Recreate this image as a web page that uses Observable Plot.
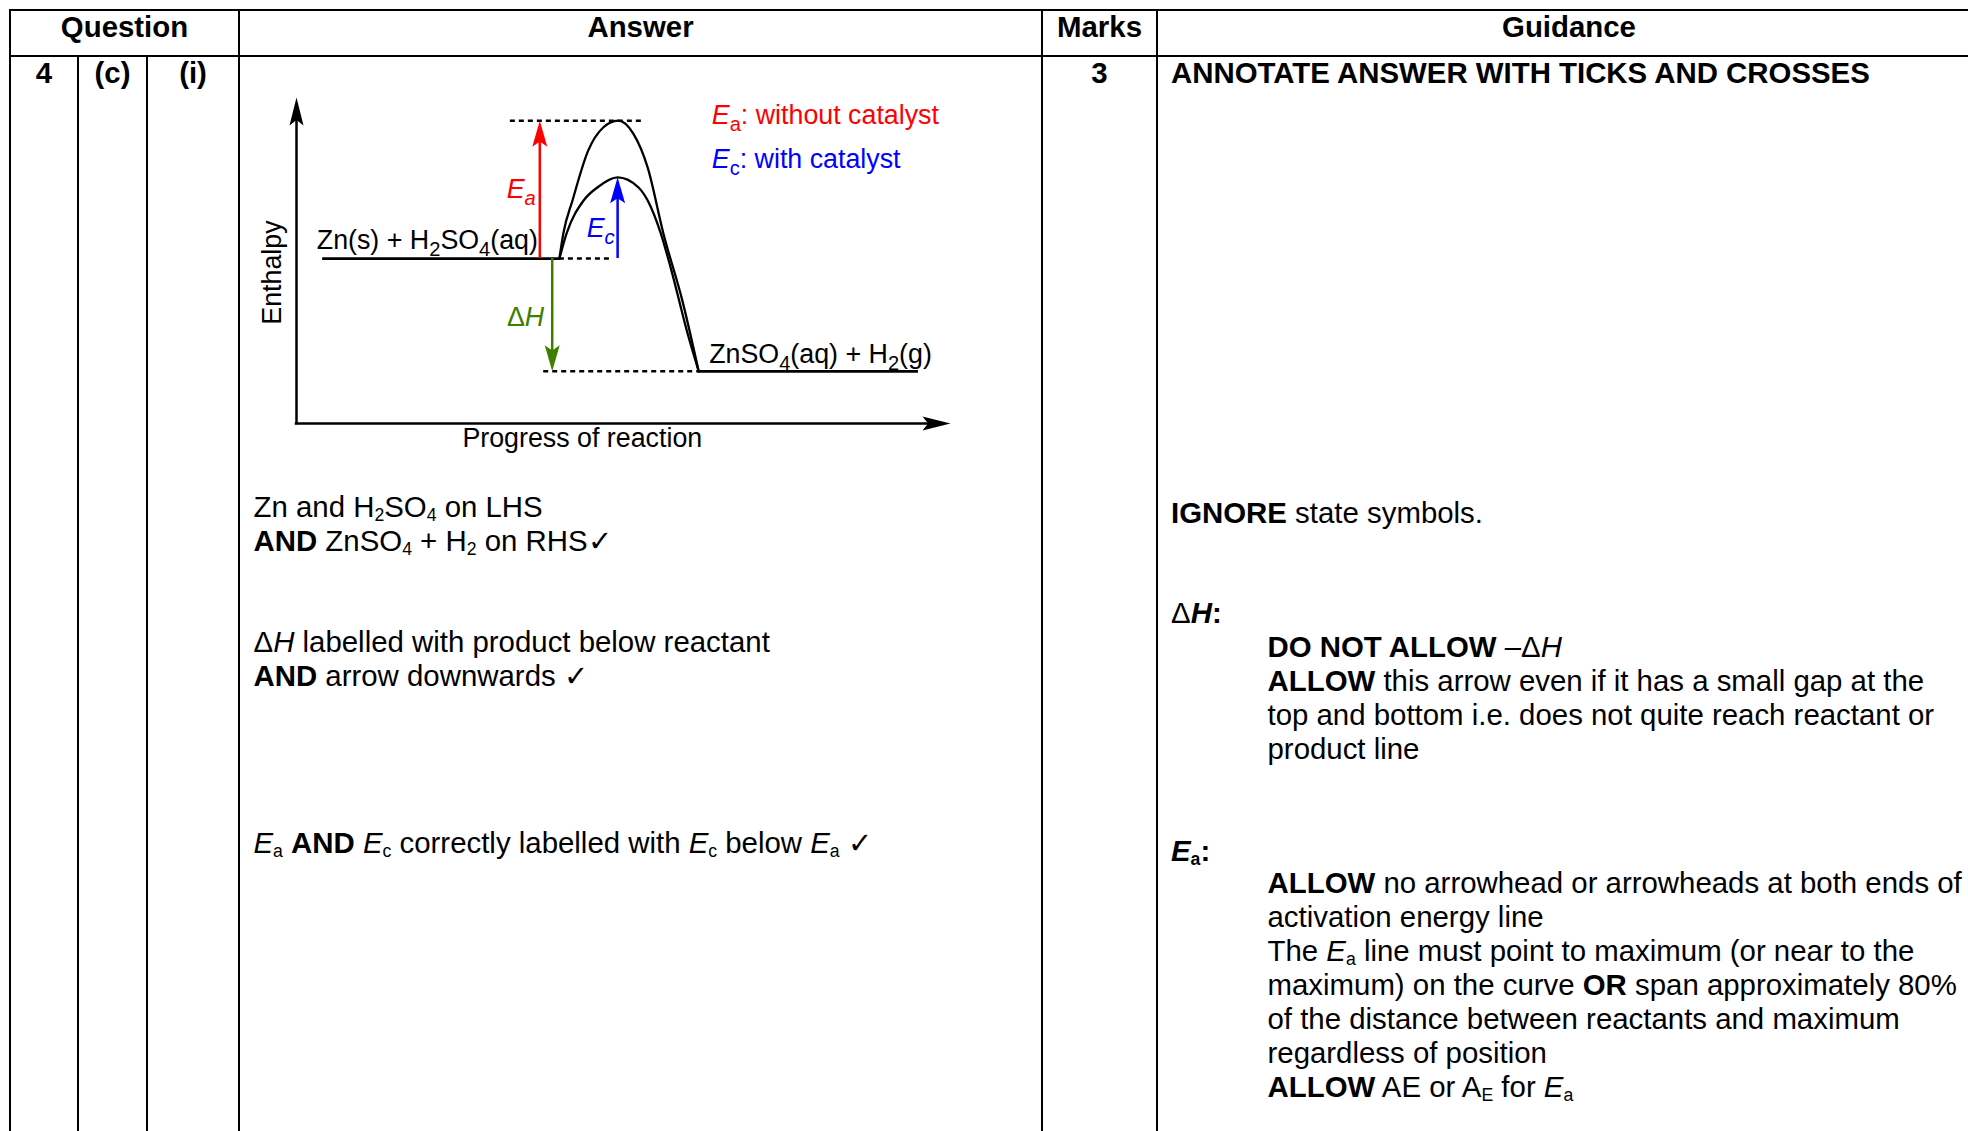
<!DOCTYPE html>
<html>
<head>
<meta charset="utf-8">
<script src="https://cdn.jsdelivr.net/npm/d3@7"></script>
<script src="https://cdn.jsdelivr.net/npm/@observablehq/plot@0.6"></script>
<style>
  html, body { margin: 0; padding: 0; background: #fff; }
  #page { position: relative; width: 1968px; height: 1131px; overflow: hidden;
          font-family: "Liberation Sans", Arial, sans-serif; color: #000; background: #fff; }
  .ln { position: absolute; background: #000; }
  .tx { position: absolute; white-space: nowrap; font-size: 29.4px; line-height: 34px; }
  .tx sub { font-size: 0.6em; vertical-align: baseline; position: relative; top: 0.23em; line-height: 0; }
  .ctr { text-align: center; }
  .bold { font-weight: bold; }
</style>
</head>
<body>
<div id="page"></div>
<script>
// ================= TABLE CONTENT =================
const headers = ["Question", "Answer", "Marks", "Guidance"];
const questionParts = ["4", "(c)", "(i)"];
const marksAwarded = ["3"];
const guidanceTitle = "ANNOTATE ANSWER WITH TICKS AND CROSSES";
const answerPoints = [
  ["Zn and H<sub>2</sub>SO<sub>4</sub> on LHS",
   "<b>AND</b> ZnSO<sub>4</sub> + H<sub>2</sub> on RHS✓"],
  ["Δ<i>H</i> labelled with product below reactant",
   "<b>AND</b> arrow downwards ✓"],
  ["<i>E</i><sub>a</sub> <b>AND</b> <i>E</i><sub>c</sub> correctly labelled with <i>E</i><sub>c</sub> below <i>E</i><sub>a</sub> ✓"]
];
const guidanceIgnore = "<b>IGNORE</b> state symbols.";
const guidanceHeads = ["Δ<b><i>H</i>:</b>", "<b><i>E</i><sub>a</sub>:</b>"];
const guidanceDeltaH = [
  "<b>DO NOT ALLOW</b> –Δ<i>H</i>",
  "<b>ALLOW</b> this arrow even if it has a small gap at the",
  "top and bottom i.e. does not quite reach reactant or",
  "product line"
];
const guidanceEa = [
  "<b>ALLOW</b> no arrowhead or arrowheads at both ends of",
  "activation energy line",
  "The <i>E</i><sub>a</sub> line must point to maximum (or near to the",
  "maximum) on the curve <b>OR</b> span approximately 80%",
  "of the distance between reactants and maximum",
  "regardless of position",
  "<b>ALLOW</b> AE or A<sub>E</sub> for <i>E</i><sub>a</sub>"
];

// ================= DIAGRAM DATA (progress 0-100, enthalpy 0-100) =================
const levelLabel = ["Zn(s) + H<sub>2</sub>SO<sub>4</sub>(aq)", "ZnSO<sub>4</sub>(aq) + H<sub>2</sub>(g)"];
const levelH = [50.6, 16.0];
const levelStart = [4.0, 61.5];
const levelEnd = [40.2, 95.1];
const levelLabelX = [3.1, 63.1];
const levelLabelY = [53.4, 18.7];

const uncatX = [40.2, 40.8, 42.2, 44.6, 46.9, 49.2, 51.5, 53.7, 56.1, 59.0, 61.5];
const uncatY = [50.6, 58.3, 68.4, 83.7, 90.8, 92.9, 88.9, 78.5, 58.3, 37.7, 16.0];
const catX = [40.2, 41.3, 43.9, 46.0, 49.1, 52.3, 53.7, 55.7, 57.2, 59.8, 61.5];
const catY = [50.6, 58.3, 68.4, 72.4, 75.5, 72.4, 68.4, 58.3, 47.9, 27.6, 16.0];

const guideY = [92.9, 50.6, 16.0];
const guideFrom = [32.7, 40.2, 37.8];
const guideTo = [53.1, 48.3, 61.5];

const arrowName = ["<i>E<sub>a</sub></i>", "<i>E<sub>c</sub></i>", "Δ<i>H</i>"];
const arrowX = [37.2, 49.1, 39.1];
const arrowFrom = [50.6, 50.6, 50.6];
const arrowTo = [92.9, 75.5, 16.0];
const arrowLabelY = [69.3, 57.1, 29.8];

const legendText = ["<i>E</i><sub>a</sub>: without catalyst", "<i>E</i><sub>c</sub>: with catalyst"];
const legendX = [63.5, 63.5];
const legendY = [91.9, 78.5];

const axisTitles = ["Enthalpy", "Progress of reaction"];
const axisTitleX = [0, 43.7];
const axisTitleY = [46.3, -7.1];

// ================= STYLE / LAYOUT =================
const arrowColor = ["#ff0000", "#0000ff", "#3d8000"];
const arrowLabelDx = [-4, -3, -8];
const FONT = "Liberation Sans, Arial, sans-serif";
const DFONT = 26.8;
const TFONT = 29.4, TLH = 34;

const page = document.getElementById("page");
const cols = [10, 78, 147, 239, 1042, 1157, 1981];
const tableTop = 10, headBottom = 56, LW = 2;
const BASE = (TLH - 1.117 * TFONT) / 2 + 0.905 * TFONT;

function line(x, y, w, h) {
  const d = document.createElement("div");
  d.className = "ln";
  Object.assign(d.style, {left: x + "px", top: y + "px", width: w + "px", height: h + "px"});
  page.appendChild(d);
}
function text(html, left, baseline, opts = {}) {
  const d = document.createElement("div");
  d.className = "tx" + (opts.center ? " ctr" : "") + (opts.bold ? " bold" : "");
  d.style.left = left + "px";
  d.style.top = (baseline - BASE) + "px";
  if (opts.width) d.style.width = opts.width + "px";
  d.innerHTML = html;
  page.appendChild(d);
}
function block(lines, left, baseline, lh = TLH) {
  lines.forEach((s, i) => text(s, left, baseline + i * lh));
}

// grid lines
line(cols[0] - 1, tableTop - 1, 1968, LW);
line(cols[0] - 1, headBottom - 1, 1968, LW);
[0, 3, 4, 5, 6].forEach(i => line(cols[i] - 1, tableTop - 1, LW, 1200));
[1, 2].forEach(i => line(cols[i] - 1, headBottom - 1, LW, 1200));

// header
const headSpans = [[0, 3], [3, 4], [4, 5], [5, 6]];
headers.forEach((h, i) => {
  const [a, b] = headSpans[i];
  text(h, cols[a], 37, {center: true, bold: true, width: cols[b] - cols[a]});
});
questionParts.forEach((q, i) => text(q, cols[i], 83, {center: true, bold: true, width: cols[i + 1] - cols[i]}));
text(marksAwarded[0], cols[4], 83, {center: true, bold: true, width: cols[5] - cols[4]});
text(guidanceTitle, 1171, 83, {bold: true});

// answer column
block(answerPoints[0], 253.5, 517);
block(answerPoints[1], 253.5, 652.5);
block(answerPoints[2], 253.5, 853);

// guidance column
text(guidanceIgnore, 1171, 523);
text(guidanceHeads[0], 1171, 623);
block(guidanceDeltaH, 1267.5, 657.5);
text(guidanceHeads[1], 1171, 861);
block(guidanceEa, 1267.5, 893.5);

// ================= DIAGRAM (Observable Plot) =================
const head = {
  draw(ctx, l, r) {
    ctx.moveTo(0, -l);
    ctx.lineTo(r, 0);
    ctx.lineTo(0, -l * 0.2);
    ctx.lineTo(-r, 0);
    ctx.closePath();
  }
};

const levels = levelH.map((h, i) => ({h, x1: levelStart[i], x2: levelEnd[i], label: levelLabel[i], lx: levelLabelX[i], ly: levelLabelY[i]}));
const uncat = uncatX.map((x, i) => ({x, y: uncatY[i]}));
const cat = catX.map((x, i) => ({x, y: catY[i]}));
const guides = guideY.map((y, i) => ({y, x1: guideFrom[i], x2: guideTo[i]}));
const legend = legendText.map((t, i) => ({t, x: legendX[i], y: legendY[i]}));

const arrowMarks = arrowX.flatMap((x, i) => {
  const up = arrowTo[i] > arrowFrom[i];
  return [
    Plot.ruleX([x], up
      ? {y1: arrowTo[i], y2: arrowFrom[i], insetTop: 10, stroke: arrowColor[i], strokeWidth: 2.5}
      : {y1: arrowFrom[i], y2: arrowTo[i], insetBottom: 10, stroke: arrowColor[i], strokeWidth: 2.5}),
    Plot.vector([{x, y: arrowTo[i]}], {x: "x", y: "y", rotate: up ? 0 : 180, length: 26, r: 7.5,
      shape: head, anchor: "end", fill: arrowColor[i], stroke: "none"}),
    Plot.text([{x, y: arrowLabelY[i], t: arrowName[i]}], {x: "x", y: "y", text: "t", textAnchor: "end",
      lineAnchor: "bottom", dx: arrowLabelDx[i], fill: arrowColor[i], fontSize: DFONT, fontFamily: FONT})
  ];
});

const svg = Plot.plot({
  width: 740, height: 400,
  marginLeft: 56, marginRight: 30, marginTop: 37, marginBottom: 37,
  x: {domain: [0, 100], axis: null},
  y: {domain: [0, 100], axis: null},
  style: {fontFamily: FONT, fontSize: DFONT + "px", background: "none", overflow: "visible"},
  marks: [
    // axes with filled arrowheads
    Plot.ruleX([0], {y1: 100, y2: 0, insetTop: 10, strokeWidth: 2.5, strokeLinecap: "square"}),
    Plot.ruleY([0], {x1: 0, x2: 100, insetRight: 10, strokeWidth: 2.5, strokeLinecap: "square"}),
    Plot.vector([{x: 0, y: 100, a: 0}, {x: 100, y: 0, a: 90}], {x: "x", y: "y", rotate: "a", length: 28, r: 7,
      shape: head, anchor: "end", fill: "black", stroke: "none"}),
    // dotted guide lines
    Plot.ruleY(guides, {y: "y", x1: "x1", x2: "x2", strokeWidth: 2.5, strokeDasharray: "5,4"}),
    // enthalpy levels
    Plot.ruleY(levels, {y: "h", x1: "x1", x2: "x2", strokeWidth: 2.7}),
    // reaction profiles
    Plot.line(uncat, {x: "x", y: "y", curve: "monotone-x", strokeWidth: 2.3}),
    Plot.line(cat, {x: "x", y: "y", curve: "monotone-x", strokeWidth: 2.3}),
    // arrows
    ...arrowMarks,
    // labels
    Plot.text(levels, {x: "lx", y: "ly", text: "label", textAnchor: "start", lineAnchor: "bottom", fontSize: DFONT, fontFamily: FONT, fill: "black"}),
    Plot.text(legend.slice(0, 1), {x: "x", y: "y", text: "t", textAnchor: "start", lineAnchor: "bottom", fontSize: DFONT, fontFamily: FONT, fill: arrowColor[0]}),
    Plot.text(legend.slice(1, 2), {x: "x", y: "y", text: "t", textAnchor: "start", lineAnchor: "bottom", fontSize: DFONT, fontFamily: FONT, fill: arrowColor[1]}),
    Plot.text([axisTitles[0]], {x: axisTitleX[0], y: axisTitleY[0], dx: -24, rotate: -90, fontSize: DFONT, fontFamily: FONT, fill: "black"}),
    Plot.text([axisTitles[1]], {x: axisTitleX[1], y: axisTitleY[1], lineAnchor: "bottom", fontSize: DFONT, fontFamily: FONT, fill: "black"})
  ]
});

// turn mini-markup (<i>, <b>, <sub>) in SVG labels into tspans
const SUB_SIZE = 0.75 * DFONT, SUB_SHIFT = 7;
function richify(root) {
  root.querySelectorAll("text").forEach(t => {
    const s = t.textContent;
    if (!s.includes("<")) return;
    const doc = new DOMParser().parseFromString(`<div>${s}</div>`, "text/html");
    const src = doc.body.firstChild;
    t.textContent = "";
    let shift = 0;
    const walk = (node, st) => {
      node.childNodes.forEach(c => {
        if (c.nodeType === 3) {
          const ts = document.createElementNS("http://www.w3.org/2000/svg", "tspan");
          ts.textContent = c.textContent;
          if (st.i) ts.setAttribute("font-style", "italic");
          if (st.b) ts.setAttribute("font-weight", "bold");
          if (st.sub) ts.setAttribute("font-size", SUB_SIZE);
          const want = st.sub ? SUB_SHIFT : 0;
          if (want !== shift) { ts.setAttribute("dy", want - shift); shift = want; }
          t.appendChild(ts);
        } else if (c.nodeType === 1) {
          walk(c, {...st, [c.nodeName.toLowerCase()]: true});
        }
      });
    };
    walk(src, {});
  });
}
richify(svg);
Object.assign(svg.style, {position: "absolute", left: "240px", top: "60px", maxWidth: "none"});
page.appendChild(svg);
</script>
</body>
</html>
